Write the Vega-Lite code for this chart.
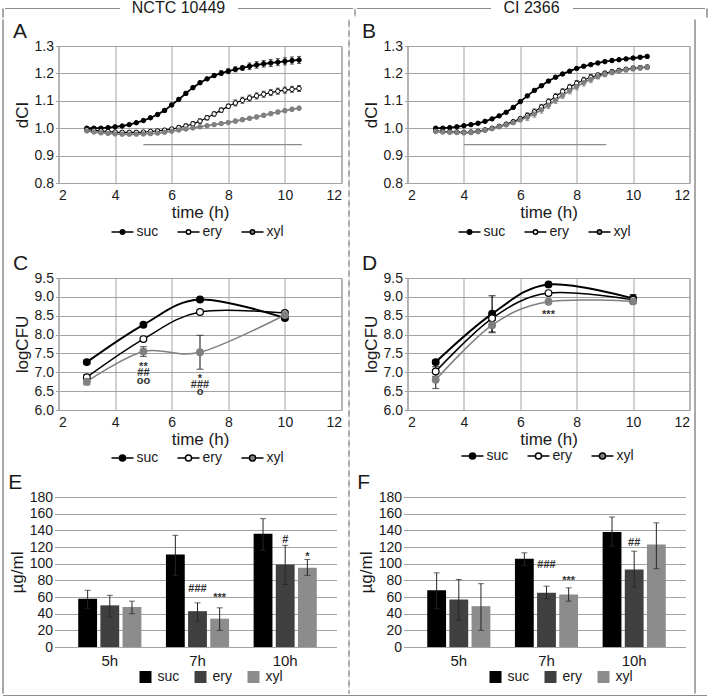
{
"$schema": "https://vega.github.io/schema/vega-lite/v6.json",
"padding": {"left": 1.5, "top": 0, "right": 0, "bottom": 0},
"background": "white",
"config": {
  "font": "Liberation Sans",
  "view": {"stroke": "#8f8f8f", "strokeWidth": 1},
  "axis": {"labelFontSize": 14, "labelColor": "#1a1a1a", "titleFontSize": 17, "titleFontWeight": "normal", "titleColor": "#1a1a1a", "gridColor": "#a3a3a3", "gridOpacity": 1, "gridWidth": 1, "domain": false, "ticks": false, "labelPadding": 5},
  "axisY": {"ticks": true, "tickSize": 3, "tickColor": "#a3a3a3", "labelPadding": 2, "titlePadding": 3},
  "legend": {"orient": "none", "direction": "horizontal", "labelFontSize": 14, "labelColor": "#1a1a1a", "symbolOpacity": 1},
  "title": {"fontSize": 21, "fontWeight": "normal", "anchor": "start", "frame": "bounds", "color": "#1a1a1a", "offset": -3}
},
"datasets": {
  "dci": [
    {"p":"A","s":"suc","t":3,"v":1.0,"lo":0.997,"hi":1.003},{"p":"A","s":"suc","t":3.25,"v":1.0,"lo":0.997,"hi":1.003},{"p":"A","s":"suc","t":3.5,"v":1.0,"lo":0.997,"hi":1.003},{"p":"A","s":"suc","t":3.75,"v":1.002,"lo":0.999,"hi":1.005},{"p":"A","s":"suc","t":4,"v":1.005,"lo":1.002,"hi":1.008},{"p":"A","s":"suc","t":4.25,"v":1.008,"lo":1.005,"hi":1.011},{"p":"A","s":"suc","t":4.5,"v":1.013,"lo":1.01,"hi":1.016},{"p":"A","s":"suc","t":4.75,"v":1.02,"lo":1.017,"hi":1.023},{"p":"A","s":"suc","t":5,"v":1.028,"lo":1.025,"hi":1.031},{"p":"A","s":"suc","t":5.25,"v":1.038,"lo":1.035,"hi":1.041},{"p":"A","s":"suc","t":5.5,"v":1.05,"lo":1.047,"hi":1.053},{"p":"A","s":"suc","t":5.75,"v":1.065,"lo":1.059,"hi":1.071},{"p":"A","s":"suc","t":6,"v":1.085,"lo":1.079,"hi":1.091},{"p":"A","s":"suc","t":6.25,"v":1.105,"lo":1.099,"hi":1.111},{"p":"A","s":"suc","t":6.5,"v":1.127,"lo":1.121,"hi":1.133},{"p":"A","s":"suc","t":6.75,"v":1.148,"lo":1.142,"hi":1.154},{"p":"A","s":"suc","t":7,"v":1.166,"lo":1.16,"hi":1.172},{"p":"A","s":"suc","t":7.25,"v":1.18,"lo":1.174,"hi":1.186},{"p":"A","s":"suc","t":7.5,"v":1.192,"lo":1.186,"hi":1.198},{"p":"A","s":"suc","t":7.75,"v":1.201,"lo":1.192,"hi":1.21},{"p":"A","s":"suc","t":8,"v":1.208,"lo":1.199,"hi":1.217},{"p":"A","s":"suc","t":8.25,"v":1.215,"lo":1.206,"hi":1.224},{"p":"A","s":"suc","t":8.5,"v":1.22,"lo":1.211,"hi":1.229},{"p":"A","s":"suc","t":8.75,"v":1.226,"lo":1.214,"hi":1.238},{"p":"A","s":"suc","t":9,"v":1.231,"lo":1.219,"hi":1.243},{"p":"A","s":"suc","t":9.25,"v":1.235,"lo":1.223,"hi":1.247},{"p":"A","s":"suc","t":9.5,"v":1.238,"lo":1.225,"hi":1.251},{"p":"A","s":"suc","t":9.75,"v":1.241,"lo":1.228,"hi":1.254},{"p":"A","s":"suc","t":10,"v":1.244,"lo":1.231,"hi":1.257},{"p":"A","s":"suc","t":10.25,"v":1.247,"lo":1.234,"hi":1.26},{"p":"A","s":"suc","t":10.5,"v":1.249,"lo":1.236,"hi":1.262},
    {"p":"A","s":"ery","t":3,"v":0.995,"lo":0.99,"hi":1.0},{"p":"A","s":"ery","t":3.25,"v":0.992,"lo":0.987,"hi":0.997},{"p":"A","s":"ery","t":3.5,"v":0.99,"lo":0.985,"hi":0.995},{"p":"A","s":"ery","t":3.75,"v":0.988,"lo":0.983,"hi":0.993},{"p":"A","s":"ery","t":4,"v":0.986,"lo":0.981,"hi":0.991},{"p":"A","s":"ery","t":4.25,"v":0.985,"lo":0.98,"hi":0.99},{"p":"A","s":"ery","t":4.5,"v":0.985,"lo":0.98,"hi":0.99},{"p":"A","s":"ery","t":4.75,"v":0.985,"lo":0.98,"hi":0.99},{"p":"A","s":"ery","t":5,"v":0.986,"lo":0.981,"hi":0.991},{"p":"A","s":"ery","t":5.25,"v":0.988,"lo":0.983,"hi":0.993},{"p":"A","s":"ery","t":5.5,"v":0.99,"lo":0.985,"hi":0.995},{"p":"A","s":"ery","t":5.75,"v":0.993,"lo":0.988,"hi":0.998},{"p":"A","s":"ery","t":6,"v":0.997,"lo":0.992,"hi":1.002},{"p":"A","s":"ery","t":6.25,"v":1.002,"lo":0.994,"hi":1.01},{"p":"A","s":"ery","t":6.5,"v":1.008,"lo":1.0,"hi":1.016},{"p":"A","s":"ery","t":6.75,"v":1.016,"lo":1.008,"hi":1.024},{"p":"A","s":"ery","t":7,"v":1.026,"lo":1.018,"hi":1.034},{"p":"A","s":"ery","t":7.25,"v":1.038,"lo":1.03,"hi":1.046},{"p":"A","s":"ery","t":7.5,"v":1.052,"lo":1.044,"hi":1.06},{"p":"A","s":"ery","t":7.75,"v":1.066,"lo":1.058,"hi":1.074},{"p":"A","s":"ery","t":8,"v":1.08,"lo":1.072,"hi":1.088},{"p":"A","s":"ery","t":8.25,"v":1.092,"lo":1.081,"hi":1.103},{"p":"A","s":"ery","t":8.5,"v":1.102,"lo":1.091,"hi":1.113},{"p":"A","s":"ery","t":8.75,"v":1.11,"lo":1.099,"hi":1.121},{"p":"A","s":"ery","t":9,"v":1.118,"lo":1.107,"hi":1.129},{"p":"A","s":"ery","t":9.25,"v":1.124,"lo":1.113,"hi":1.135},{"p":"A","s":"ery","t":9.5,"v":1.13,"lo":1.119,"hi":1.141},{"p":"A","s":"ery","t":9.75,"v":1.135,"lo":1.124,"hi":1.146},{"p":"A","s":"ery","t":10,"v":1.139,"lo":1.128,"hi":1.15},{"p":"A","s":"ery","t":10.25,"v":1.142,"lo":1.131,"hi":1.153},{"p":"A","s":"ery","t":10.5,"v":1.145,"lo":1.134,"hi":1.156},
    {"p":"A","s":"xyl","t":3,"v":0.99,"lo":0.986,"hi":0.994},{"p":"A","s":"xyl","t":3.25,"v":0.986,"lo":0.982,"hi":0.99},{"p":"A","s":"xyl","t":3.5,"v":0.983,"lo":0.979,"hi":0.987},{"p":"A","s":"xyl","t":3.75,"v":0.981,"lo":0.977,"hi":0.985},{"p":"A","s":"xyl","t":4,"v":0.979,"lo":0.975,"hi":0.983},{"p":"A","s":"xyl","t":4.25,"v":0.978,"lo":0.974,"hi":0.982},{"p":"A","s":"xyl","t":4.5,"v":0.978,"lo":0.974,"hi":0.982},{"p":"A","s":"xyl","t":4.75,"v":0.978,"lo":0.974,"hi":0.982},{"p":"A","s":"xyl","t":5,"v":0.979,"lo":0.975,"hi":0.983},{"p":"A","s":"xyl","t":5.25,"v":0.98,"lo":0.976,"hi":0.984},{"p":"A","s":"xyl","t":5.5,"v":0.982,"lo":0.978,"hi":0.986},{"p":"A","s":"xyl","t":5.75,"v":0.985,"lo":0.981,"hi":0.989},{"p":"A","s":"xyl","t":6,"v":0.989,"lo":0.985,"hi":0.993},{"p":"A","s":"xyl","t":6.25,"v":0.993,"lo":0.988,"hi":0.998},{"p":"A","s":"xyl","t":6.5,"v":0.997,"lo":0.992,"hi":1.002},{"p":"A","s":"xyl","t":6.75,"v":1.001,"lo":0.996,"hi":1.006},{"p":"A","s":"xyl","t":7,"v":1.005,"lo":1.0,"hi":1.01},{"p":"A","s":"xyl","t":7.25,"v":1.009,"lo":1.004,"hi":1.014},{"p":"A","s":"xyl","t":7.5,"v":1.013,"lo":1.008,"hi":1.018},{"p":"A","s":"xyl","t":7.75,"v":1.017,"lo":1.012,"hi":1.022},{"p":"A","s":"xyl","t":8,"v":1.021,"lo":1.016,"hi":1.026},{"p":"A","s":"xyl","t":8.25,"v":1.026,"lo":1.019,"hi":1.033},{"p":"A","s":"xyl","t":8.5,"v":1.031,"lo":1.024,"hi":1.038},{"p":"A","s":"xyl","t":8.75,"v":1.036,"lo":1.029,"hi":1.043},{"p":"A","s":"xyl","t":9,"v":1.041,"lo":1.034,"hi":1.048},{"p":"A","s":"xyl","t":9.25,"v":1.047,"lo":1.04,"hi":1.054},{"p":"A","s":"xyl","t":9.5,"v":1.053,"lo":1.046,"hi":1.06},{"p":"A","s":"xyl","t":9.75,"v":1.059,"lo":1.052,"hi":1.066},{"p":"A","s":"xyl","t":10,"v":1.064,"lo":1.057,"hi":1.071},{"p":"A","s":"xyl","t":10.25,"v":1.069,"lo":1.062,"hi":1.076},{"p":"A","s":"xyl","t":10.5,"v":1.073,"lo":1.066,"hi":1.08},
    {"p":"B","s":"suc","t":3,"v":1.0,"lo":0.997,"hi":1.003},{"p":"B","s":"suc","t":3.25,"v":1.0,"lo":0.997,"hi":1.003},{"p":"B","s":"suc","t":3.5,"v":1.002,"lo":0.999,"hi":1.005},{"p":"B","s":"suc","t":3.75,"v":1.005,"lo":1.002,"hi":1.008},{"p":"B","s":"suc","t":4,"v":1.009,"lo":1.006,"hi":1.012},{"p":"B","s":"suc","t":4.25,"v":1.013,"lo":1.01,"hi":1.016},{"p":"B","s":"suc","t":4.5,"v":1.018,"lo":1.015,"hi":1.021},{"p":"B","s":"suc","t":4.75,"v":1.025,"lo":1.022,"hi":1.028},{"p":"B","s":"suc","t":5,"v":1.034,"lo":1.031,"hi":1.037},{"p":"B","s":"suc","t":5.25,"v":1.045,"lo":1.042,"hi":1.048},{"p":"B","s":"suc","t":5.5,"v":1.058,"lo":1.055,"hi":1.061},{"p":"B","s":"suc","t":5.75,"v":1.076,"lo":1.073,"hi":1.079},{"p":"B","s":"suc","t":6,"v":1.097,"lo":1.094,"hi":1.1},{"p":"B","s":"suc","t":6.25,"v":1.118,"lo":1.115,"hi":1.121},{"p":"B","s":"suc","t":6.5,"v":1.138,"lo":1.135,"hi":1.141},{"p":"B","s":"suc","t":6.75,"v":1.155,"lo":1.152,"hi":1.158},{"p":"B","s":"suc","t":7,"v":1.172,"lo":1.169,"hi":1.175},{"p":"B","s":"suc","t":7.25,"v":1.186,"lo":1.183,"hi":1.189},{"p":"B","s":"suc","t":7.5,"v":1.198,"lo":1.195,"hi":1.201},{"p":"B","s":"suc","t":7.75,"v":1.208,"lo":1.205,"hi":1.211},{"p":"B","s":"suc","t":8,"v":1.218,"lo":1.215,"hi":1.221},{"p":"B","s":"suc","t":8.25,"v":1.226,"lo":1.221,"hi":1.231},{"p":"B","s":"suc","t":8.5,"v":1.232,"lo":1.227,"hi":1.237},{"p":"B","s":"suc","t":8.75,"v":1.238,"lo":1.233,"hi":1.243},{"p":"B","s":"suc","t":9,"v":1.243,"lo":1.238,"hi":1.248},{"p":"B","s":"suc","t":9.25,"v":1.247,"lo":1.242,"hi":1.252},{"p":"B","s":"suc","t":9.5,"v":1.25,"lo":1.245,"hi":1.255},{"p":"B","s":"suc","t":9.75,"v":1.253,"lo":1.248,"hi":1.258},{"p":"B","s":"suc","t":10,"v":1.256,"lo":1.251,"hi":1.261},{"p":"B","s":"suc","t":10.25,"v":1.259,"lo":1.254,"hi":1.264},{"p":"B","s":"suc","t":10.5,"v":1.262,"lo":1.257,"hi":1.267},
    {"p":"B","s":"ery","t":3,"v":0.99,"lo":0.986,"hi":0.994},{"p":"B","s":"ery","t":3.25,"v":0.988,"lo":0.984,"hi":0.992},{"p":"B","s":"ery","t":3.5,"v":0.987,"lo":0.983,"hi":0.991},{"p":"B","s":"ery","t":3.75,"v":0.986,"lo":0.982,"hi":0.99},{"p":"B","s":"ery","t":4,"v":0.985,"lo":0.981,"hi":0.989},{"p":"B","s":"ery","t":4.25,"v":0.986,"lo":0.982,"hi":0.99},{"p":"B","s":"ery","t":4.5,"v":0.989,"lo":0.985,"hi":0.993},{"p":"B","s":"ery","t":4.75,"v":0.994,"lo":0.99,"hi":0.998},{"p":"B","s":"ery","t":5,"v":1.0,"lo":0.996,"hi":1.004},{"p":"B","s":"ery","t":5.25,"v":1.007,"lo":1.003,"hi":1.011},{"p":"B","s":"ery","t":5.5,"v":1.015,"lo":1.011,"hi":1.019},{"p":"B","s":"ery","t":5.75,"v":1.024,"lo":1.02,"hi":1.028},{"p":"B","s":"ery","t":6,"v":1.035,"lo":1.031,"hi":1.039},{"p":"B","s":"ery","t":6.25,"v":1.046,"lo":1.036,"hi":1.056},{"p":"B","s":"ery","t":6.5,"v":1.06,"lo":1.05,"hi":1.07},{"p":"B","s":"ery","t":6.75,"v":1.077,"lo":1.067,"hi":1.087},{"p":"B","s":"ery","t":7,"v":1.097,"lo":1.087,"hi":1.107},{"p":"B","s":"ery","t":7.25,"v":1.116,"lo":1.106,"hi":1.126},{"p":"B","s":"ery","t":7.5,"v":1.134,"lo":1.124,"hi":1.144},{"p":"B","s":"ery","t":7.75,"v":1.15,"lo":1.14,"hi":1.16},{"p":"B","s":"ery","t":8,"v":1.164,"lo":1.154,"hi":1.174},{"p":"B","s":"ery","t":8.25,"v":1.176,"lo":1.166,"hi":1.186},{"p":"B","s":"ery","t":8.5,"v":1.186,"lo":1.176,"hi":1.196},{"p":"B","s":"ery","t":8.75,"v":1.194,"lo":1.187,"hi":1.201},{"p":"B","s":"ery","t":9,"v":1.201,"lo":1.194,"hi":1.208},{"p":"B","s":"ery","t":9.25,"v":1.206,"lo":1.199,"hi":1.213},{"p":"B","s":"ery","t":9.5,"v":1.211,"lo":1.204,"hi":1.218},{"p":"B","s":"ery","t":9.75,"v":1.215,"lo":1.208,"hi":1.222},{"p":"B","s":"ery","t":10,"v":1.219,"lo":1.212,"hi":1.226},{"p":"B","s":"ery","t":10.25,"v":1.221,"lo":1.214,"hi":1.228},{"p":"B","s":"ery","t":10.5,"v":1.223,"lo":1.216,"hi":1.23},
    {"p":"B","s":"xyl","t":3,"v":0.988,"lo":0.983,"hi":0.993},{"p":"B","s":"xyl","t":3.25,"v":0.986,"lo":0.981,"hi":0.991},{"p":"B","s":"xyl","t":3.5,"v":0.985,"lo":0.98,"hi":0.99},{"p":"B","s":"xyl","t":3.75,"v":0.984,"lo":0.979,"hi":0.989},{"p":"B","s":"xyl","t":4,"v":0.983,"lo":0.978,"hi":0.988},{"p":"B","s":"xyl","t":4.25,"v":0.984,"lo":0.979,"hi":0.989},{"p":"B","s":"xyl","t":4.5,"v":0.987,"lo":0.982,"hi":0.992},{"p":"B","s":"xyl","t":4.75,"v":0.992,"lo":0.987,"hi":0.997},{"p":"B","s":"xyl","t":5,"v":0.998,"lo":0.993,"hi":1.003},{"p":"B","s":"xyl","t":5.25,"v":1.005,"lo":1.0,"hi":1.01},{"p":"B","s":"xyl","t":5.5,"v":1.012,"lo":1.007,"hi":1.017},{"p":"B","s":"xyl","t":5.75,"v":1.02,"lo":1.015,"hi":1.025},{"p":"B","s":"xyl","t":6,"v":1.03,"lo":1.025,"hi":1.035},{"p":"B","s":"xyl","t":6.25,"v":1.04,"lo":1.028,"hi":1.052},{"p":"B","s":"xyl","t":6.5,"v":1.052,"lo":1.04,"hi":1.064},{"p":"B","s":"xyl","t":6.75,"v":1.067,"lo":1.055,"hi":1.079},{"p":"B","s":"xyl","t":7,"v":1.084,"lo":1.072,"hi":1.096},{"p":"B","s":"xyl","t":7.25,"v":1.102,"lo":1.09,"hi":1.114},{"p":"B","s":"xyl","t":7.5,"v":1.12,"lo":1.108,"hi":1.132},{"p":"B","s":"xyl","t":7.75,"v":1.137,"lo":1.125,"hi":1.149},{"p":"B","s":"xyl","t":8,"v":1.152,"lo":1.14,"hi":1.164},{"p":"B","s":"xyl","t":8.25,"v":1.166,"lo":1.154,"hi":1.178},{"p":"B","s":"xyl","t":8.5,"v":1.178,"lo":1.166,"hi":1.19},{"p":"B","s":"xyl","t":8.75,"v":1.188,"lo":1.18,"hi":1.196},{"p":"B","s":"xyl","t":9,"v":1.196,"lo":1.188,"hi":1.204},{"p":"B","s":"xyl","t":9.25,"v":1.203,"lo":1.195,"hi":1.211},{"p":"B","s":"xyl","t":9.5,"v":1.208,"lo":1.2,"hi":1.216},{"p":"B","s":"xyl","t":9.75,"v":1.213,"lo":1.205,"hi":1.221},{"p":"B","s":"xyl","t":10,"v":1.217,"lo":1.209,"hi":1.225},{"p":"B","s":"xyl","t":10.25,"v":1.22,"lo":1.212,"hi":1.228},{"p":"B","s":"xyl","t":10.5,"v":1.222,"lo":1.214,"hi":1.23}
  ],
  "sig": [
    {"p":"A","t":5,"t2":10.6,"v":0.94},
    {"p":"B","t":4,"t2":9.05,"v":0.94}
  ],
  "cfu": [
    {"p":"C","s":"suc","t":3,"v":7.27,"lo":7.22,"hi":7.32},{"p":"C","s":"suc","t":5,"v":8.26,"lo":8.22,"hi":8.3},{"p":"C","s":"suc","t":7,"v":8.93,"lo":8.89,"hi":8.97},{"p":"C","s":"suc","t":10,"v":8.44,"lo":8.39,"hi":8.49},
    {"p":"C","s":"ery","t":3,"v":6.87,"lo":6.81,"hi":6.93},{"p":"C","s":"ery","t":5,"v":7.88,"lo":7.84,"hi":7.92},{"p":"C","s":"ery","t":7,"v":8.6,"lo":8.56,"hi":8.64},{"p":"C","s":"ery","t":10,"v":8.57,"lo":8.52,"hi":8.62},
    {"p":"C","s":"xyl","t":3,"v":6.75,"lo":6.67,"hi":6.83},{"p":"C","s":"xyl","t":5,"v":7.55,"lo":7.42,"hi":7.68},{"p":"C","s":"xyl","t":7,"v":7.53,"lo":7.08,"hi":7.98},{"p":"C","s":"xyl","t":10,"v":8.52,"lo":8.45,"hi":8.59},
    {"p":"D","s":"suc","t":3,"v":7.27,"lo":7.22,"hi":7.32},{"p":"D","s":"suc","t":5,"v":8.55,"lo":8.07,"hi":9.03},{"p":"D","s":"suc","t":7,"v":9.33,"lo":9.29,"hi":9.37},{"p":"D","s":"suc","t":10,"v":8.96,"lo":8.86,"hi":9.06},
    {"p":"D","s":"ery","t":3,"v":7.02,"lo":6.89,"hi":7.15},{"p":"D","s":"ery","t":5,"v":8.43,"lo":8.38,"hi":8.48},{"p":"D","s":"ery","t":7,"v":9.1,"lo":9.06,"hi":9.14},{"p":"D","s":"ery","t":10,"v":8.92,"lo":8.87,"hi":8.97},
    {"p":"D","s":"xyl","t":3,"v":6.8,"lo":6.57,"hi":7.03},{"p":"D","s":"xyl","t":5,"v":8.25,"lo":8.05,"hi":8.45},{"p":"D","s":"xyl","t":7,"v":8.87,"lo":8.83,"hi":8.91},{"p":"D","s":"xyl","t":10,"v":8.88,"lo":8.83,"hi":8.93}
  ],
  "annc": [
    {"p":"C","t":5,"v":7.14,"lab":"**"},{"p":"C","t":5,"v":6.98,"lab":"##"},{"p":"C","t":5,"v":6.78,"lab":"oo"},
    {"p":"C","t":7,"v":6.83,"lab":"*"},{"p":"C","t":7,"v":6.67,"lab":"###"},{"p":"C","t":7,"v":6.47,"lab":"o"},
    {"p":"D","t":7,"v":8.53,"lab":"***"}
  ],
  "bars": [
    {"p":"E","time":"5h","s":"suc","v":58,"lo":46,"hi":68},{"p":"E","time":"5h","s":"ery","v":50,"lo":36,"hi":62},{"p":"E","time":"5h","s":"xyl","v":48,"lo":40,"hi":55},
    {"p":"E","time":"7h","s":"suc","v":111,"lo":86,"hi":134},{"p":"E","time":"7h","s":"ery","v":43,"lo":31,"hi":53},{"p":"E","time":"7h","s":"xyl","v":34,"lo":20,"hi":47},
    {"p":"E","time":"10h","s":"suc","v":136,"lo":116,"hi":154},{"p":"E","time":"10h","s":"ery","v":99,"lo":75,"hi":122},{"p":"E","time":"10h","s":"xyl","v":95,"lo":86,"hi":105},
    {"p":"F","time":"5h","s":"suc","v":68,"lo":46,"hi":89},{"p":"F","time":"5h","s":"ery","v":57,"lo":32,"hi":81},{"p":"F","time":"5h","s":"xyl","v":49,"lo":20,"hi":76},
    {"p":"F","time":"7h","s":"suc","v":106,"lo":98,"hi":113},{"p":"F","time":"7h","s":"ery","v":65,"lo":58,"hi":73},{"p":"F","time":"7h","s":"xyl","v":63,"lo":55,"hi":71},
    {"p":"F","time":"10h","s":"suc","v":138,"lo":121,"hi":156},{"p":"F","time":"10h","s":"ery","v":93,"lo":72,"hi":115},{"p":"F","time":"10h","s":"xyl","v":123,"lo":94,"hi":149}
  ],
  "annb": [
    {"p":"E","time":"7h","s":"ery","v":70,"lab":"###"},{"p":"E","time":"7h","s":"xyl","v":59,"lab":"***"},
    {"p":"E","time":"10h","s":"ery","v":129,"lab":"#"},{"p":"E","time":"10h","s":"xyl","v":108,"lab":"*"},
    {"p":"F","time":"7h","s":"ery","v":98,"lab":"###"},{"p":"F","time":"7h","s":"xyl","v":79,"lab":"***"},
    {"p":"F","time":"10h","s":"ery","v":125,"lab":"##"}
  ]
},
"vconcat": [
  {"hconcat": [
    {"width": 0.001, "height": 9, "view": {"stroke": "#8c8c8c"}, "data": {"values": []}, "mark": "point", "encoding": {}},
    {"width": 115, "height": 0.001, "view": {"stroke": "#8c8c8c"}, "data": {"values": []}, "mark": "point", "encoding": {}},
    {"width": 116, "height": 0.001, "view": {"stroke": null}, "data": {"values": [{"label": "NCTC 10449"}]}, "mark": {"type": "text", "fontSize": 16, "baseline": "middle", "color": "#1a1a1a"}, "encoding": {"text": {"field": "label", "type": "nominal"}}},
    {"width": 115, "height": 0.001, "view": {"stroke": "#8c8c8c"}, "data": {"values": []}, "mark": "point", "encoding": {}},
    {"width": 0.001, "height": 9, "view": {"stroke": "#8c8c8c", "strokeDash": [6, 4]}, "data": {"values": []}, "mark": "point", "encoding": {}},
    {"width": 134, "height": 0.001, "view": {"stroke": "#8c8c8c"}, "data": {"values": []}, "mark": "point", "encoding": {}},
    {"width": 80, "height": 0.001, "view": {"stroke": null}, "data": {"values": [{"label": "CI 2366"}]}, "mark": {"type": "text", "fontSize": 16, "baseline": "middle", "color": "#1a1a1a"}, "encoding": {"text": {"field": "label", "type": "nominal"}}},
    {"width": 132, "height": 0.001, "view": {"stroke": "#8c8c8c"}, "data": {"values": []}, "mark": "point", "encoding": {}},
    {"width": 0.001, "height": 9, "view": {"stroke": "#8c8c8c"}, "data": {"values": []}, "mark": "point", "encoding": {}}
  ], "spacing": 0},
  {"vconcat": [
    {"hconcat": [
      {"hconcat": [
        {"width": 0.001, "height": 674, "view": {"stroke": "#8c8c8c"}, "data": {"values": []}, "mark": "point", "encoding": {}},
        {"hconcat": [
          {"vconcat": [
            {"width": 1, "height": 0.001, "view": {"stroke": null}, "data": {"values": []}, "mark": "point", "encoding": {}},
            {"vconcat": [
              {
                "width": 283, "height": 137,
                "title": {"text": "A"},
                "data": {"name": "dci"},
                "transform": [{"filter": "datum.p == 'A'"}],
                "encoding": {
                  "x": {"field": "t", "type": "quantitative", "title": "time (h)", "scale": {"domain": [2, 12], "nice": false}, "axis": {"values": [2, 4, 6, 8, 10, 12], "grid": true, "titlePadding": 2}},
                  "y": {"field": "v", "type": "quantitative", "title": "dCI", "scale": {"domain": [0.8, 1.3], "nice": false, "zero": false}, "axis": {"values": [0.8, 0.9, 1.0, 1.1, 1.2, 1.3], "format": ".1f", "grid": true}}
                },
                "layer": [
                  {"data": {"name": "sig"}, "transform": [{"filter": "datum.p == 'A'"}], "mark": {"type": "rule", "color": "#8c8c8c", "strokeWidth": 1.2}, "encoding": {"x2": {"field": "t2"}}},
                  {"mark": {"type": "rule", "strokeWidth": 1}, "encoding": {"y": {"field": "lo", "type": "quantitative", "title": "dCI"}, "y2": {"field": "hi"}, "stroke": {"condition": {"test": "datum.s === 'xyl'", "value": "#7f7f7f"}, "value": "#1a1a1a"}}},
                  {"mark": {"type": "tick", "orient": "horizontal", "size": 4, "thickness": 1}, "encoding": {"y": {"field": "lo", "type": "quantitative", "title": "dCI"}, "color": {"condition": {"test": "datum.s === 'xyl'", "value": "#7f7f7f"}, "value": "#1a1a1a"}}},
                  {"mark": {"type": "tick", "orient": "horizontal", "size": 4, "thickness": 1}, "encoding": {"y": {"field": "hi", "type": "quantitative", "title": "dCI"}, "color": {"condition": {"test": "datum.s === 'xyl'", "value": "#7f7f7f"}, "value": "#1a1a1a"}}},
                  {"mark": {"type": "line"}, "encoding": {"detail": {"field": "s", "type": "nominal"}, "stroke": {"condition": {"test": "datum.s === 'xyl'", "value": "#808080"}, "value": "#000000"}, "strokeWidth": {"condition": {"test": "datum.s === 'ery'", "value": 1.2}, "value": 1.8}}},
                  {"mark": {"type": "point", "filled": true, "size": 20, "opacity": 1, "strokeWidth": 1}, "encoding": {
                    "fill": {"field": "s", "type": "nominal", "scale": {"domain": ["suc", "ery", "xyl"], "range": ["#000000", "#ffffff", "#808080"]}, "legend": {"title": null, "legendX": 52, "legendY": 174, "symbolType": "M-1,0L-0.2,0M0.2,0L1,0M-0.2,0C-0.2,-0.11,-0.11,-0.2,0,-0.2C0.11,-0.2,0.2,-0.11,0.2,0C0.2,0.11,0.11,0.2,0,0.2C-0.11,0.2,-0.2,0.11,-0.2,0Z", "symbolSize": 484, "symbolStrokeWidth": 1.5, "columnPadding": 16, "labelOffset": 2, "encode": {"symbols": {"update": {"stroke": {"signal": "datum.value === 'xyl' ? '#808080' : '#000000'"}, "strokeWidth": {"value": 1.5}}}}}},
                    "stroke": {"condition": {"test": "datum.s === 'xyl'", "value": "#808080"}, "value": "#000000"}}}
                ]
              },
              {"vconcat": [
                {
                  "width": 283, "height": 132,
                  "title": {"text": "C"},
                  "data": {"name": "cfu"},
                  "transform": [{"filter": "datum.p == 'C'"}],
                  "encoding": {
                    "x": {"field": "t", "type": "quantitative", "title": "time (h)", "scale": {"domain": [2, 12], "nice": false}, "axis": {"values": [2, 4, 6, 8, 10, 12], "grid": true, "titlePadding": 2}},
                    "y": {"field": "v", "type": "quantitative", "title": "logCFU", "scale": {"domain": [6, 9.5], "nice": false, "zero": false}, "axis": {"values": [6, 6.5, 7, 7.5, 8, 8.5, 9, 9.5], "format": ".1f", "grid": true}}
                  },
                  "layer": [
                    {"mark": {"type": "rule", "strokeWidth": 1.2}, "encoding": {"y": {"field": "lo", "type": "quantitative", "title": "logCFU"}, "y2": {"field": "hi"}, "stroke": {"condition": {"test": "datum.s === 'xyl'", "value": "#333333"}, "value": "#000000"}}},
                    {"mark": {"type": "tick", "orient": "horizontal", "size": 7, "thickness": 1.2}, "encoding": {"y": {"field": "lo", "type": "quantitative", "title": "logCFU"}, "color": {"condition": {"test": "datum.s === 'xyl'", "value": "#333333"}, "value": "#000000"}}},
                    {"mark": {"type": "tick", "orient": "horizontal", "size": 7, "thickness": 1.2}, "encoding": {"y": {"field": "hi", "type": "quantitative", "title": "logCFU"}, "color": {"condition": {"test": "datum.s === 'xyl'", "value": "#333333"}, "value": "#000000"}}},
                    {"mark": {"type": "line", "interpolate": "cardinal"}, "encoding": {"detail": {"field": "s", "type": "nominal"}, "stroke": {"condition": {"test": "datum.s === 'xyl'", "value": "#808080"}, "value": "#000000"}, "strokeWidth": {"condition": {"test": "datum.s === 'suc'", "value": 2}, "value": 1.5}}},
                    {"mark": {"type": "point", "filled": true, "size": 45, "opacity": 1, "strokeWidth": 1.2}, "encoding": {
                      "fill": {"field": "s", "type": "nominal", "scale": {"domain": ["suc", "ery", "xyl"], "range": ["#000000", "#ffffff", "#808080"]}, "legend": {"title": null, "legendX": 52, "legendY": 168, "symbolType": "M-1,0L-0.28,0M0.28,0L1,0M-0.28,0C-0.28,-0.155,-0.155,-0.28,0,-0.28C0.155,-0.28,0.28,-0.155,0.28,0C0.28,0.155,0.155,0.28,0,0.28C-0.155,0.28,-0.28,0.155,-0.28,0Z", "symbolSize": 484, "symbolStrokeWidth": 1.5, "columnPadding": 16, "labelOffset": 2, "encode": {"symbols": {"update": {"stroke": {"signal": "datum.value === 'xyl' ? '#808080' : '#000000'"}, "strokeWidth": {"value": 1.5}}}}}},
                      "stroke": {"condition": {"test": "datum.s === 'xyl'", "value": "#808080"}, "value": "#000000"}}},
                    {"data": {"name": "annc"}, "transform": [{"filter": "datum.p == 'C'"}], "mark": {"type": "text", "fontSize": 11, "fontWeight": "bold", "color": "#333333", "baseline": "middle"}, "encoding": {"text": {"field": "lab", "type": "nominal"}}}
                  ]
                },
                {
                  "width": 278, "height": 150,
                  "view": {"stroke": null},
                  "title": {"text": "E"},
                  "data": {"name": "bars"},
                  "transform": [{"filter": "datum.p == 'E'"}],
                  "encoding": {
                    "x": {"field": "time", "type": "nominal", "sort": ["5h", "7h", "10h"], "title": null, "scale": {"paddingInner": 0.28, "paddingOuter": 0.225}, "axis": {"labelAngle": 0, "grid": false, "labelPadding": 6, "labelFontSize": 15}},
                    "xOffset": {"field": "s", "type": "nominal", "sort": ["suc", "ery", "xyl"], "scale": {"paddingInner": 0.15, "paddingOuter": 0}},
                    "y": {"field": "v", "type": "quantitative", "title": "µg/ml", "scale": {"domain": [0, 180], "nice": false}, "axis": {"values": [0, 20, 40, 60, 80, 100, 120, 140, 160, 180], "grid": true, "tickSize": 4}}
                  },
                  "layer": [
                    {"mark": {"type": "bar"}, "encoding": {"fill": {"field": "s", "type": "nominal", "scale": {"domain": ["suc", "ery", "xyl"], "range": ["#000000", "#404040", "#8c8c8c"]}, "legend": {"title": null, "legendX": 80, "legendY": 173, "symbolType": "square", "symbolSize": 144, "symbolStrokeWidth": 0, "columnPadding": 14, "labelOffset": 5}}}},
                    {"mark": {"type": "rule", "color": "#262626", "strokeWidth": 1}, "encoding": {"y": {"field": "lo", "type": "quantitative", "title": "µg/ml"}, "y2": {"field": "hi"}}},
                    {"mark": {"type": "tick", "color": "#262626", "size": 6, "thickness": 1}, "encoding": {"y": {"field": "lo", "type": "quantitative", "title": "µg/ml"}}},
                    {"mark": {"type": "tick", "color": "#262626", "size": 6, "thickness": 1}, "encoding": {"y": {"field": "hi", "type": "quantitative", "title": "µg/ml"}}},
                    {"data": {"name": "annb"}, "transform": [{"filter": "datum.p == 'E'"}], "mark": {"type": "text", "fontSize": 11, "fontWeight": "bold", "color": "#333333", "baseline": "middle"}, "encoding": {"text": {"field": "lab", "type": "nominal"}}}
                  ]
                }
              ], "spacing": 6, "resolve": {"scale": {"fill": "independent", "stroke": "independent", "color": "independent", "strokeWidth": "independent", "x": "independent", "y": "independent", "xOffset": "independent"}}}
            ], "spacing": 12, "resolve": {"scale": {"fill": "independent", "stroke": "independent", "color": "independent", "strokeWidth": "independent", "x": "independent", "y": "independent", "xOffset": "independent"}}}
          ], "spacing": 0, "resolve": {"scale": {"fill": "independent", "stroke": "independent", "color": "independent", "strokeWidth": "independent", "x": "independent", "y": "independent", "xOffset": "independent"}}},
          {"hconcat": [
            {"width": 0.001, "height": 674, "view": {"stroke": "#8c8c8c", "strokeDash": [6, 4]}, "data": {"values": []}, "mark": "point", "encoding": {}},
            {"vconcat": [
              {"width": 1, "height": 0.001, "view": {"stroke": null}, "data": {"values": []}, "mark": "point", "encoding": {}},
              {"vconcat": [
                {
                  "width": 282, "height": 137,
                  "title": {"text": "B"},
                  "data": {"name": "dci"},
                  "transform": [{"filter": "datum.p == 'B'"}],
                  "encoding": {
                    "x": {"field": "t", "type": "quantitative", "title": "time (h)", "scale": {"domain": [2, 12], "nice": false}, "axis": {"values": [2, 4, 6, 8, 10, 12], "grid": true, "titlePadding": 2}},
                    "y": {"field": "v", "type": "quantitative", "title": "dCI", "scale": {"domain": [0.8, 1.3], "nice": false, "zero": false}, "axis": {"values": [0.8, 0.9, 1.0, 1.1, 1.2, 1.3], "format": ".1f", "grid": true}}
                  },
                  "layer": [
                    {"data": {"name": "sig"}, "transform": [{"filter": "datum.p == 'B'"}], "mark": {"type": "rule", "color": "#8c8c8c", "strokeWidth": 1.2}, "encoding": {"x2": {"field": "t2"}}},
                    {"mark": {"type": "rule", "strokeWidth": 1}, "encoding": {"y": {"field": "lo", "type": "quantitative", "title": "dCI"}, "y2": {"field": "hi"}, "stroke": {"condition": {"test": "datum.s === 'xyl'", "value": "#7f7f7f"}, "value": "#1a1a1a"}}},
                    {"mark": {"type": "tick", "orient": "horizontal", "size": 4, "thickness": 1}, "encoding": {"y": {"field": "lo", "type": "quantitative", "title": "dCI"}, "color": {"condition": {"test": "datum.s === 'xyl'", "value": "#7f7f7f"}, "value": "#1a1a1a"}}},
                    {"mark": {"type": "tick", "orient": "horizontal", "size": 4, "thickness": 1}, "encoding": {"y": {"field": "hi", "type": "quantitative", "title": "dCI"}, "color": {"condition": {"test": "datum.s === 'xyl'", "value": "#7f7f7f"}, "value": "#1a1a1a"}}},
                    {"mark": {"type": "line"}, "encoding": {"detail": {"field": "s", "type": "nominal"}, "stroke": {"condition": {"test": "datum.s === 'xyl'", "value": "#808080"}, "value": "#000000"}, "strokeWidth": {"condition": {"test": "datum.s === 'ery'", "value": 1.2}, "value": 1.8}}},
                    {"mark": {"type": "point", "filled": true, "size": 20, "opacity": 1, "strokeWidth": 1}, "encoding": {
                      "fill": {"field": "s", "type": "nominal", "scale": {"domain": ["suc", "ery", "xyl"], "range": ["#000000", "#ffffff", "#808080"]}, "legend": {"title": null, "legendX": 50, "legendY": 174, "symbolType": "M-1,0L-0.2,0M0.2,0L1,0M-0.2,0C-0.2,-0.11,-0.11,-0.2,0,-0.2C0.11,-0.2,0.2,-0.11,0.2,0C0.2,0.11,0.11,0.2,0,0.2C-0.11,0.2,-0.2,0.11,-0.2,0Z", "symbolSize": 484, "symbolStrokeWidth": 1.5, "columnPadding": 16, "labelOffset": 2, "encode": {"symbols": {"update": {"stroke": {"signal": "datum.value === 'xyl' ? '#808080' : '#000000'"}, "strokeWidth": {"value": 1.5}}}}}},
                      "stroke": {"condition": {"test": "datum.s === 'xyl'", "value": "#808080"}, "value": "#000000"}}}
                  ]
                },
                {"vconcat": [
                  {
                    "width": 282, "height": 132,
                    "title": {"text": "D"},
                    "data": {"name": "cfu"},
                    "transform": [{"filter": "datum.p == 'D'"}],
                    "encoding": {
                      "x": {"field": "t", "type": "quantitative", "title": "time (h)", "scale": {"domain": [2, 12], "nice": false}, "axis": {"values": [2, 4, 6, 8, 10, 12], "grid": true, "titlePadding": 2}},
                      "y": {"field": "v", "type": "quantitative", "title": "logCFU", "scale": {"domain": [6, 9.5], "nice": false, "zero": false}, "axis": {"values": [6, 6.5, 7, 7.5, 8, 8.5, 9, 9.5], "format": ".1f", "grid": true}}
                    },
                    "layer": [
                      {"mark": {"type": "rule", "strokeWidth": 1.2}, "encoding": {"y": {"field": "lo", "type": "quantitative", "title": "logCFU"}, "y2": {"field": "hi"}, "stroke": {"condition": {"test": "datum.s === 'xyl'", "value": "#333333"}, "value": "#000000"}}},
                      {"mark": {"type": "tick", "orient": "horizontal", "size": 7, "thickness": 1.2}, "encoding": {"y": {"field": "lo", "type": "quantitative", "title": "logCFU"}, "color": {"condition": {"test": "datum.s === 'xyl'", "value": "#333333"}, "value": "#000000"}}},
                      {"mark": {"type": "tick", "orient": "horizontal", "size": 7, "thickness": 1.2}, "encoding": {"y": {"field": "hi", "type": "quantitative", "title": "logCFU"}, "color": {"condition": {"test": "datum.s === 'xyl'", "value": "#333333"}, "value": "#000000"}}},
                      {"mark": {"type": "line", "interpolate": "cardinal"}, "encoding": {"detail": {"field": "s", "type": "nominal"}, "stroke": {"condition": {"test": "datum.s === 'xyl'", "value": "#808080"}, "value": "#000000"}, "strokeWidth": {"condition": {"test": "datum.s === 'suc'", "value": 2}, "value": 1.5}}},
                      {"mark": {"type": "point", "filled": true, "size": 45, "opacity": 1, "strokeWidth": 1.2}, "encoding": {
                        "fill": {"field": "s", "type": "nominal", "scale": {"domain": ["suc", "ery", "xyl"], "range": ["#000000", "#ffffff", "#808080"]}, "legend": {"title": null, "legendX": 53, "legendY": 166, "symbolType": "M-1,0L-0.28,0M0.28,0L1,0M-0.28,0C-0.28,-0.155,-0.155,-0.28,0,-0.28C0.155,-0.28,0.28,-0.155,0.28,0C0.28,0.155,0.155,0.28,0,0.28C-0.155,0.28,-0.28,0.155,-0.28,0Z", "symbolSize": 484, "symbolStrokeWidth": 1.5, "columnPadding": 16, "labelOffset": 2, "encode": {"symbols": {"update": {"stroke": {"signal": "datum.value === 'xyl' ? '#808080' : '#000000'"}, "strokeWidth": {"value": 1.5}}}}}},
                        "stroke": {"condition": {"test": "datum.s === 'xyl'", "value": "#808080"}, "value": "#000000"}}},
                      {"data": {"name": "annc"}, "transform": [{"filter": "datum.p == 'D'"}], "mark": {"type": "text", "fontSize": 11, "fontWeight": "bold", "color": "#333333", "baseline": "middle"}, "encoding": {"text": {"field": "lab", "type": "nominal"}}}
                    ]
                  },
                  {
                    "width": 278, "height": 150,
                    "view": {"stroke": null},
                    "title": {"text": "F"},
                    "data": {"name": "bars"},
                    "transform": [{"filter": "datum.p == 'F'"}],
                    "encoding": {
                      "x": {"field": "time", "type": "nominal", "sort": ["5h", "7h", "10h"], "title": null, "scale": {"paddingInner": 0.28, "paddingOuter": 0.225}, "axis": {"labelAngle": 0, "grid": false, "labelPadding": 6, "labelFontSize": 15}},
                      "xOffset": {"field": "s", "type": "nominal", "sort": ["suc", "ery", "xyl"], "scale": {"paddingInner": 0.15, "paddingOuter": 0}},
                      "y": {"field": "v", "type": "quantitative", "title": "µg/ml", "scale": {"domain": [0, 180], "nice": false}, "axis": {"values": [0, 20, 40, 60, 80, 100, 120, 140, 160, 180], "grid": true, "tickSize": 4}}
                    },
                    "layer": [
                      {"mark": {"type": "bar"}, "encoding": {"fill": {"field": "s", "type": "nominal", "scale": {"domain": ["suc", "ery", "xyl"], "range": ["#000000", "#404040", "#8c8c8c"]}, "legend": {"title": null, "legendX": 81, "legendY": 173, "symbolType": "square", "symbolSize": 144, "symbolStrokeWidth": 0, "columnPadding": 14, "labelOffset": 5}}}},
                      {"mark": {"type": "rule", "color": "#262626", "strokeWidth": 1}, "encoding": {"y": {"field": "lo", "type": "quantitative", "title": "µg/ml"}, "y2": {"field": "hi"}}},
                      {"mark": {"type": "tick", "color": "#262626", "size": 6, "thickness": 1}, "encoding": {"y": {"field": "lo", "type": "quantitative", "title": "µg/ml"}}},
                      {"mark": {"type": "tick", "color": "#262626", "size": 6, "thickness": 1}, "encoding": {"y": {"field": "hi", "type": "quantitative", "title": "µg/ml"}}},
                      {"data": {"name": "annb"}, "transform": [{"filter": "datum.p == 'F'"}], "mark": {"type": "text", "fontSize": 11, "fontWeight": "bold", "color": "#333333", "baseline": "middle"}, "encoding": {"text": {"field": "lab", "type": "nominal"}}}
                    ]
                  }
                ], "spacing": 8, "resolve": {"scale": {"fill": "independent", "stroke": "independent", "color": "independent", "strokeWidth": "independent", "x": "independent", "y": "independent", "xOffset": "independent"}}}
              ], "spacing": 12, "resolve": {"scale": {"fill": "independent", "stroke": "independent", "color": "independent", "strokeWidth": "independent", "x": "independent", "y": "independent", "xOffset": "independent"}}}
            ], "spacing": 0, "resolve": {"scale": {"fill": "independent", "stroke": "independent", "color": "independent", "strokeWidth": "independent", "x": "independent", "y": "independent", "xOffset": "independent"}}}
          ], "spacing": 7, "resolve": {"scale": {"fill": "independent", "stroke": "independent", "color": "independent", "strokeWidth": "independent", "x": "independent", "y": "independent", "xOffset": "independent"}}}
        ], "spacing": 5, "resolve": {"scale": {"fill": "independent", "stroke": "independent", "color": "independent", "strokeWidth": "independent", "x": "independent", "y": "independent", "xOffset": "independent"}}}
      ], "spacing": 4, "resolve": {"scale": {"fill": "independent", "stroke": "independent", "color": "independent", "strokeWidth": "independent", "x": "independent", "y": "independent", "xOffset": "independent"}}},
      {"width": 0.001, "height": 674, "view": {"stroke": "#8c8c8c"}, "data": {"values": []}, "mark": "point", "encoding": {}}
    ], "spacing": 3, "resolve": {"scale": {"fill": "independent", "stroke": "independent", "color": "independent", "strokeWidth": "independent", "x": "independent", "y": "independent", "xOffset": "independent"}}},
    {"width": 704, "height": 0.001, "view": {"stroke": "#8c8c8c"}, "data": {"values": []}, "mark": "point", "encoding": {}}
  ], "spacing": 0, "resolve": {"scale": {"fill": "independent", "stroke": "independent", "color": "independent", "strokeWidth": "independent", "x": "independent", "y": "independent", "xOffset": "independent"}}}
],
"spacing": 0,
"resolve": {"scale": {"fill": "independent", "stroke": "independent", "color": "independent", "strokeWidth": "independent", "x": "independent", "y": "independent", "xOffset": "independent"}}
}
